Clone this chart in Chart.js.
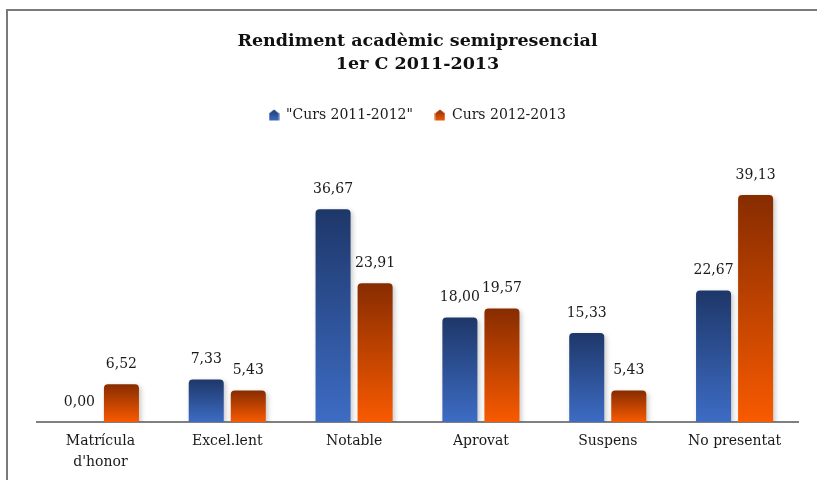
<!DOCTYPE html>
<html>
<head>
<meta charset="utf-8">
<script src="https://cdn.jsdelivr.net/npm/chart.js@4.4.0/dist/chart.umd.min.js"></script>
<style>
    html, body { margin: 0; padding: 0; background: #fff; overflow: hidden; }
    #wrap { position: relative; width: 817px; height: 480px; }
    #frame { position: absolute; left: 6px; top: 9px; width: 840px; height: 500px;
             border: 2px solid #7a7a7a; box-sizing: border-box; }
    #chart { position: absolute; left: 0; top: 0; }
</style>
</head>
<body>
<div id="wrap">
    <div id="frame"></div>
    <canvas id="chart" width="817" height="480"></canvas>
</div>
<script>
// ── Data ──────────────────────────────────────────────────────────
const categories = [['Matrícula', "d'honor"], 'Excel.lent', 'Notable', 'Aprovat', 'Suspens', 'No presentat'];
const seriesNames = ['"Curs 2011-2012"', 'Curs 2012-2013'];
const curs2011 = [0.00, 7.33, 36.67, 18.00, 15.33, 22.67];
const curs2012 = [6.52, 5.43, 23.91, 19.57, 5.43, 39.13];

const FONT = "'DejaVu Serif', serif";

// gradient per bar: dark at the top, lighter at the base
function barGradient(top, bottom) {
    return ctx => {
        const chart = ctx.chart;
        const area = chart.chartArea;
        if (!area || ctx.type !== 'data') return bottom;
        const yScale = chart.scales.y;
        const yTop = yScale.getPixelForValue(ctx.parsed.y);
        const yBase = yScale.getPixelForValue(0);
        if (Math.abs(yBase - yTop) < 1) return bottom;
        const g = chart.ctx.createLinearGradient(0, yTop, 0, yBase);
        g.addColorStop(0, top);
        g.addColorStop(1, bottom);
        return g;
    };
}

// little "house" markers for the legend
function marker(top, bottom) {
    const c = document.createElement('canvas');
    c.width = 11; c.height = 12;
    const x = c.getContext('2d');
    const g = x.createLinearGradient(0, 0, 0, 12);
    g.addColorStop(0, top);
    g.addColorStop(1, bottom);
    x.fillStyle = g;
    x.beginPath();
    x.moveTo(5.5, 0.5);
    x.lineTo(10.5, 4.5);
    x.lineTo(10.5, 11.5);
    x.lineTo(0.5, 11.5);
    x.lineTo(0.5, 4.5);
    x.closePath();
    x.fill();
    return c;
}
const markers = [marker('#1f3a70', '#3e6cc2'), marker('#8a2e00', '#f05a08')];

// ── Plugins ───────────────────────────────────────────────────────
const barShadow = {
    id: 'barShadow',
    beforeDatasetsDraw(chart) {
        const c = chart.ctx;
        c.save();
        c.shadowColor = 'rgba(0,0,0,0.22)';
        c.shadowBlur = 5;
        c.shadowOffsetX = 2;
        c.shadowOffsetY = 2;
    },
    afterDatasetsDraw(chart) {
        chart.ctx.restore();
    }
};

const valueLabels = {
    id: 'valueLabels',
    afterDraw(chart) {
        const c = chart.ctx;
        c.save();
        c.font = '14px ' + FONT;
        c.fillStyle = '#1a1a1a';
        c.textAlign = 'center';
        c.textBaseline = 'middle';
        chart.data.datasets.forEach((ds, i) => {
            chart.getDatasetMeta(i).data.forEach((bar, j) => {
                const txt = ds.data[j].toFixed(2).replace('.', ',');
                c.fillText(txt, bar.x, bar.y - 20);
            });
        });
        c.restore();
    }
};

// ── Chart ─────────────────────────────────────────────────────────
new Chart(document.getElementById('chart'), {
    type: 'bar',
    data: {
        labels: categories,
        datasets: [{
            label: seriesNames[0],
            data: curs2011,
            backgroundColor: barGradient('#1e3769', '#3d6cc4'),
            borderRadius: { topLeft: 4, topRight: 4 },
            borderSkipped: 'start',
            categoryPercentage: 0.663,
            barPercentage: 0.833
        }, {
            label: seriesNames[1],
            data: curs2012,
            backgroundColor: barGradient('#872c00', '#f85a00'),
            borderRadius: { topLeft: 4, topRight: 4 },
            borderSkipped: 'start',
            categoryPercentage: 0.663,
            barPercentage: 0.833
        }]
    },
    options: {
        responsive: false,
        animation: false,
        layout: { padding: { left: 37, right: 19, top: 0, bottom: -2 } },
        plugins: {
            title: {
                display: true,
                text: ['Rendiment acadèmic semipresencial', '1er C 2011-2013'],
                color: '#111',
                font: { family: FONT, size: 17.5, weight: 'bold', lineHeight: 1.314 },
                padding: { top: 30, bottom: 10 }
            },
            legend: {
                labels: {
                    color: '#1a1a1a',
                    font: { family: FONT, size: 14 },
                    usePointStyle: true,
                    boxWidth: 10,
                    boxHeight: 10,
                    padding: 22,
                    generateLabels(chart) {
                        const items = Chart.defaults.plugins.legend.labels.generateLabels(chart);
                        items.forEach((it, i) => { it.pointStyle = markers[i]; });
                        return items;
                    }
                }
            },
            tooltip: { enabled: false }
        },
        scales: {
            x: {
                grid: { display: false, drawTicks: false },
                border: { display: true, color: '#808080', width: 2 },
                ticks: {
                    color: '#1a1a1a',
                    font: { family: FONT, size: 14, lineHeight: 1.5 },
                    padding: 9,
                    maxRotation: 0
                }
            },
            y: {
                display: false,
                min: 0,
                max: 50
            }
        }
    },
    plugins: [barShadow, valueLabels]
});
</script>
</body>
</html>
